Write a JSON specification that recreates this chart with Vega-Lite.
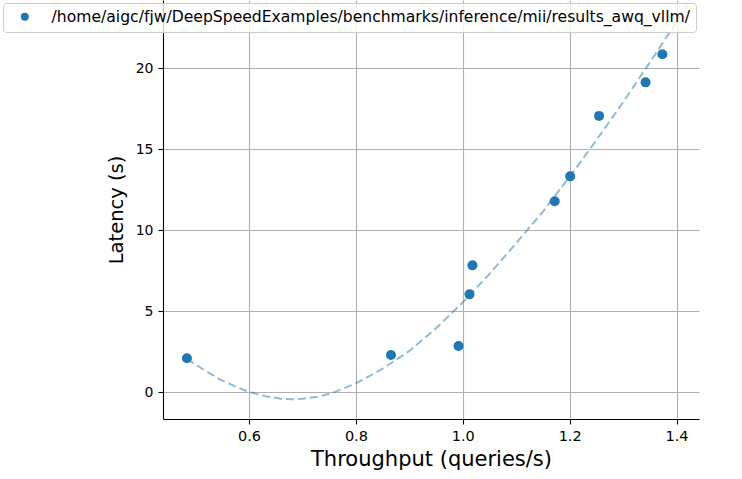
{
  "$schema": "https://vega.github.io/schema/vega-lite/v6.json",
  "autosize": "none",
  "width": 536,
  "height": 419,
  "padding": {"left": 163, "top": 0, "right": 43, "bottom": 60},
  "background": "white",
  "config": {
    "font": "DejaVu Sans",
    "view": {"stroke": null},
    "axis": {
      "labelFont": "DejaVu Sans",
      "titleFont": "DejaVu Sans",
      "labelFontSize": 14,
      "titleFontSize": 19.5,
      "titleFontWeight": "normal",
      "labelColor": "#000000",
      "titleColor": "#000000",
      "domainColor": "#000000",
      "domainWidth": 1.1,
      "tickColor": "#000000",
      "tickWidth": 1.1,
      "tickSize": 5,
      "labelPadding": 5,
      "gridColor": "#b0b0b0",
      "gridWidth": 1.1,
      "gridOpacity": 1
    },
    "legend": {
      "labelFont": "DejaVu Sans"
    }
  },
  "datasets": {
    "points": [
      {"throughput": 0.4838, "latency": 2.10, "series": "/home/aigc/fjw/DeepSpeedExamples/benchmarks/inference/mii/results_awq_vllm/"},
      {"throughput": 0.8656, "latency": 2.30, "series": "/home/aigc/fjw/DeepSpeedExamples/benchmarks/inference/mii/results_awq_vllm/"},
      {"throughput": 0.9920, "latency": 2.85, "series": "/home/aigc/fjw/DeepSpeedExamples/benchmarks/inference/mii/results_awq_vllm/"},
      {"throughput": 1.0125, "latency": 6.04, "series": "/home/aigc/fjw/DeepSpeedExamples/benchmarks/inference/mii/results_awq_vllm/"},
      {"throughput": 1.0180, "latency": 7.83, "series": "/home/aigc/fjw/DeepSpeedExamples/benchmarks/inference/mii/results_awq_vllm/"},
      {"throughput": 1.1720, "latency": 11.78, "series": "/home/aigc/fjw/DeepSpeedExamples/benchmarks/inference/mii/results_awq_vllm/"},
      {"throughput": 1.2010, "latency": 13.32, "series": "/home/aigc/fjw/DeepSpeedExamples/benchmarks/inference/mii/results_awq_vllm/"},
      {"throughput": 1.2550, "latency": 17.05, "series": "/home/aigc/fjw/DeepSpeedExamples/benchmarks/inference/mii/results_awq_vllm/"},
      {"throughput": 1.3420, "latency": 19.12, "series": "/home/aigc/fjw/DeepSpeedExamples/benchmarks/inference/mii/results_awq_vllm/"},
      {"throughput": 1.3735, "latency": 20.85, "series": "/home/aigc/fjw/DeepSpeedExamples/benchmarks/inference/mii/results_awq_vllm/"}
    ],
    "fit": [
      {"throughput": 0.484, "latency": 2.05},
      {"throughput": 0.51, "latency": 1.50},
      {"throughput": 0.545, "latency": 0.80},
      {"throughput": 0.575, "latency": 0.35},
      {"throughput": 0.60, "latency": 0.02},
      {"throughput": 0.63, "latency": -0.24},
      {"throughput": 0.66, "latency": -0.40},
      {"throughput": 0.68, "latency": -0.43},
      {"throughput": 0.70, "latency": -0.40},
      {"throughput": 0.73, "latency": -0.27},
      {"throughput": 0.757, "latency": -0.03},
      {"throughput": 0.80, "latency": 0.55},
      {"throughput": 0.85, "latency": 1.45},
      {"throughput": 0.90, "latency": 2.55},
      {"throughput": 0.95, "latency": 3.95},
      {"throughput": 1.00, "latency": 5.55},
      {"throughput": 1.05, "latency": 7.30},
      {"throughput": 1.10, "latency": 9.20},
      {"throughput": 1.15, "latency": 11.15},
      {"throughput": 1.20, "latency": 13.30},
      {"throughput": 1.25, "latency": 15.55},
      {"throughput": 1.30, "latency": 17.90},
      {"throughput": 1.35, "latency": 20.35},
      {"throughput": 1.40, "latency": 22.85},
      {"throughput": 1.42, "latency": 23.90}
    ]
  },
  "encoding": {
    "x": {
      "field": "throughput",
      "type": "quantitative",
      "scale": {"domain": [0.439, 1.442], "nice": false, "zero": false},
      "axis": {"values": [0.6, 0.8, 1.0, 1.2, 1.4], "format": ".1f", "title": "Throughput (queries/s)", "titleFontSize": 21, "titlePadding": 6, "labelFontSize": 14.5, "labelFlush": false}
    },
    "y": {
      "field": "latency",
      "type": "quantitative",
      "scale": {"domain": [-1.65, 24.2], "nice": false, "zero": false},
      "axis": {"values": [0, 5, 10, 15, 20], "title": "Latency (s)", "titlePadding": 9, "labelFlush": false}
    }
  },
  "layer": [
    {
      "data": {"name": "fit"},
      "mark": {"type": "line", "clip": true, "color": "#1f77b4", "opacity": 0.5, "strokeWidth": 2, "strokeDash": [8, 4]}
    },
    {
      "data": {"name": "points"},
      "mark": {"type": "point", "shape": "circle", "filled": true, "size": 100, "opacity": 1},
      "encoding": {
        "color": {
          "field": "series",
          "type": "nominal",
          "scale": {"range": ["#1f77b4"]},
          "legend": {
            "orient": "none",
            "legendX": -160,
            "legendY": 3,
            "title": null,
            "labelFontSize": 15.6,
            "labelColor": "#000000",
            "labelLimit": 2000,
            "labelOffset": 19,
            "symbolType": "circle",
            "symbolSize": 64,
            "symbolOpacity": 1,
            "symbolStrokeWidth": 0,
            "padding": 6,
            "strokeColor": "#cccccc",
            "fillColor": "rgba(255,255,255,0.8)",
            "cornerRadius": 3,
            "symbolOffset": 8
          }
        }
      }
    },
    {
      "data": {"values": [{}]},
      "mark": {"type": "rule", "color": "#000000", "strokeWidth": 1.1},
      "encoding": {"x": {"datum": 1.442}}
    }
  ]
}
